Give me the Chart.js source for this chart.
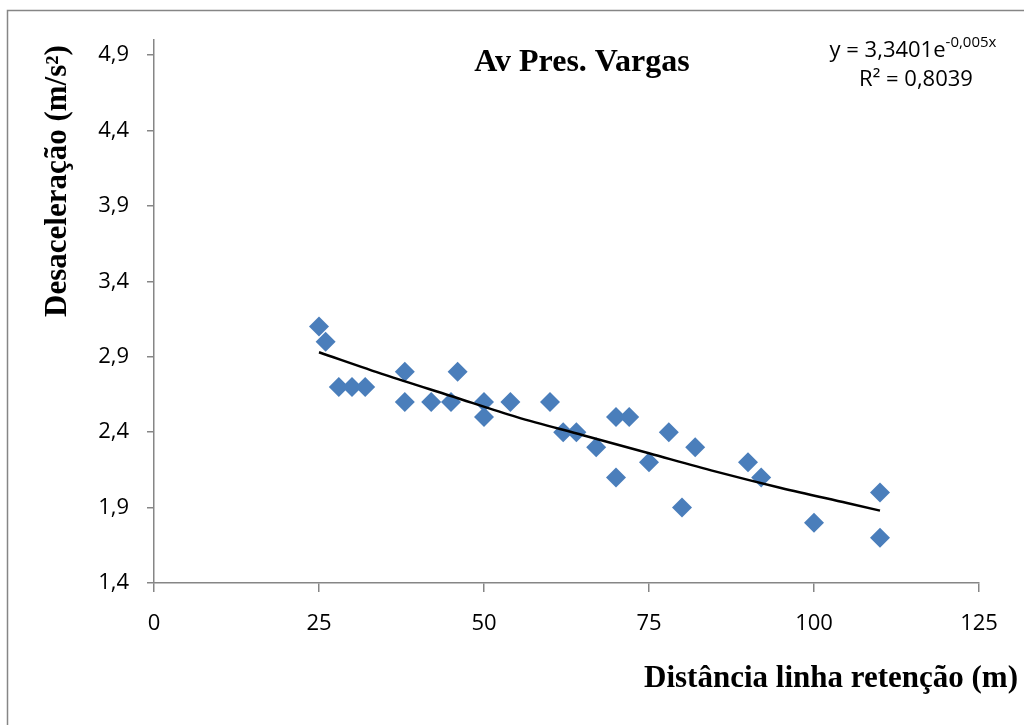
<!DOCTYPE html>
<html>
<head>
<meta charset="utf-8">
<script src="https://cdn.jsdelivr.net/npm/chart.js@4.4.0/dist/chart.umd.min.js"></script>
<style>
  html, body { margin: 0; padding: 0; background: #fff; }
  canvas { display: block; }
</style>
</head>
<body>
<canvas id="chart" width="1024" height="725"></canvas>
<script>
// dados
const distancia = [25, 26, 28, 30, 32, 38, 38, 42, 45, 46, 50, 50, 54, 60, 62, 64, 67, 70, 70, 72, 75, 78, 80, 82, 90, 92, 100, 110, 110];
const desaceleracao = [3.1, 3.0, 2.7, 2.7, 2.7, 2.8, 2.6, 2.6, 2.6, 2.8, 2.6, 2.5, 2.6, 2.6, 2.4, 2.4, 2.3, 2.5, 2.1, 2.5, 2.2, 2.4, 1.9, 2.3, 2.2, 2.1, 1.8, 2.0, 1.7];

const tendenciaX = [25, 35, 45, 55, 65, 75, 85, 95, 105, 110];
const tendenciaY = [2.93, 2.78, 2.64, 2.50, 2.38, 2.26, 2.14, 2.03, 1.93, 1.88];

const yTicks = [1.4, 1.9, 2.4, 2.9, 3.4, 3.9, 4.4, 4.9];
const xTicks = [0, 25, 50, 75, 100, 125];

const titulo = 'Av Pres. Vargas';
const tituloX = 'Distância linha retenção (m)';
const tituloY = 'Desaceleração (m/s²)';
const equacao = ['y = 3,3401e', '-0,005x'];
const r2 = 'R² = 0,8039';

const axisColor = '#868686';
const tickFont = { family: 'Open Sans', size: 22 };

const textos = {
  id: 'textos',
  afterDraw(chart) {
    const ctx = chart.ctx;
    ctx.save();
    // moldura
    ctx.strokeStyle = axisColor;
    ctx.lineWidth = 1.5;
    ctx.strokeRect(7.5, 10.5, 1100, 800);

    ctx.fillStyle = '#000';
    ctx.font = 'bold 32px "Liberation Serif"';
    ctx.textAlign = 'center';
    ctx.textBaseline = 'alphabetic';
    ctx.fillText(titulo, 582, 71);

    ctx.font = 'bold 31px "Liberation Serif"';
    ctx.textAlign = 'right';
    ctx.fillText(tituloX, 1018, 687);

    ctx.save();
    ctx.translate(66, 181);
    ctx.rotate(-Math.PI / 2);
    ctx.textAlign = 'center';
    ctx.fillText(tituloY, 0, 0);
    ctx.restore();

    // equação
    ctx.textAlign = 'left';
    ctx.font = '22px "Open Sans"';
    const w1 = ctx.measureText(equacao[0]).width;
    ctx.font = '15px "Open Sans"';
    const w2 = ctx.measureText(equacao[1]).width;
    let x0 = 913 - (w1 + w2) / 2;
    ctx.font = '22px "Open Sans"';
    ctx.fillText(equacao[0], x0, 57);
    ctx.font = '15px "Open Sans"';
    ctx.fillText(equacao[1], x0 + w1, 47);
    ctx.font = '22px "Open Sans"';
    ctx.textAlign = 'center';
    ctx.fillText(r2, 916, 86);
    ctx.restore();
  }
};

new Chart(document.getElementById('chart'), {
  type: 'scatter',
  data: {
    datasets: [
      {
        type: 'line',
        data: tendenciaX.map((x, i) => ({ x: x, y: tendenciaY[i] })),
        borderColor: '#000',
        borderWidth: 2.5,
        pointRadius: 0,
        cubicInterpolationMode: 'monotone',
        fill: false,
        order: 0
      },
      {
        data: distancia.map((x, i) => ({ x: x, y: desaceleracao[i] })),
        pointStyle: 'rectRot',
        pointRadius: 10,
        backgroundColor: '#4A7EBB',
        borderColor: '#4A7EBB',
        borderWidth: 0,
        order: 1
      }
    ]
  },
  options: {
    responsive: false,
    devicePixelRatio: 1,
    animation: false,
    layout: { padding: { left: 0, top: 40, right: 45, bottom: 0 } },
    plugins: {
      legend: { display: false },
      tooltip: { enabled: false }
    },
    scales: {
      x: {
        type: 'linear',
        min: 0,
        max: 125,
        afterFit: s => { s.height = 142; },
        afterBuildTicks: s => { s.ticks = xTicks.map(v => ({ value: v })); },
        border: { color: axisColor, width: 1.5 },
        grid: { drawOnChartArea: false, drawTicks: true, tickLength: 9, color: axisColor, lineWidth: 1.5 },
        ticks: { color: '#000', font: tickFont, padding: 19, maxRotation: 0 }
      },
      y: {
        min: 1.4,
        max: 5.0,
        afterFit: s => { s.width = 154; },
        afterBuildTicks: s => { s.ticks = yTicks.map(v => ({ value: v })); },
        border: { color: axisColor, width: 1.5 },
        grid: { drawOnChartArea: false, drawTicks: true, tickLength: 7, color: axisColor, lineWidth: 1.5 },
        ticks: {
          color: '#000',
          font: tickFont,
          padding: 18,
          callback: v => v.toFixed(1).replace('.', ',')
        }
      }
    }
  },
  plugins: [textos]
});
</script>
</body>
</html>
